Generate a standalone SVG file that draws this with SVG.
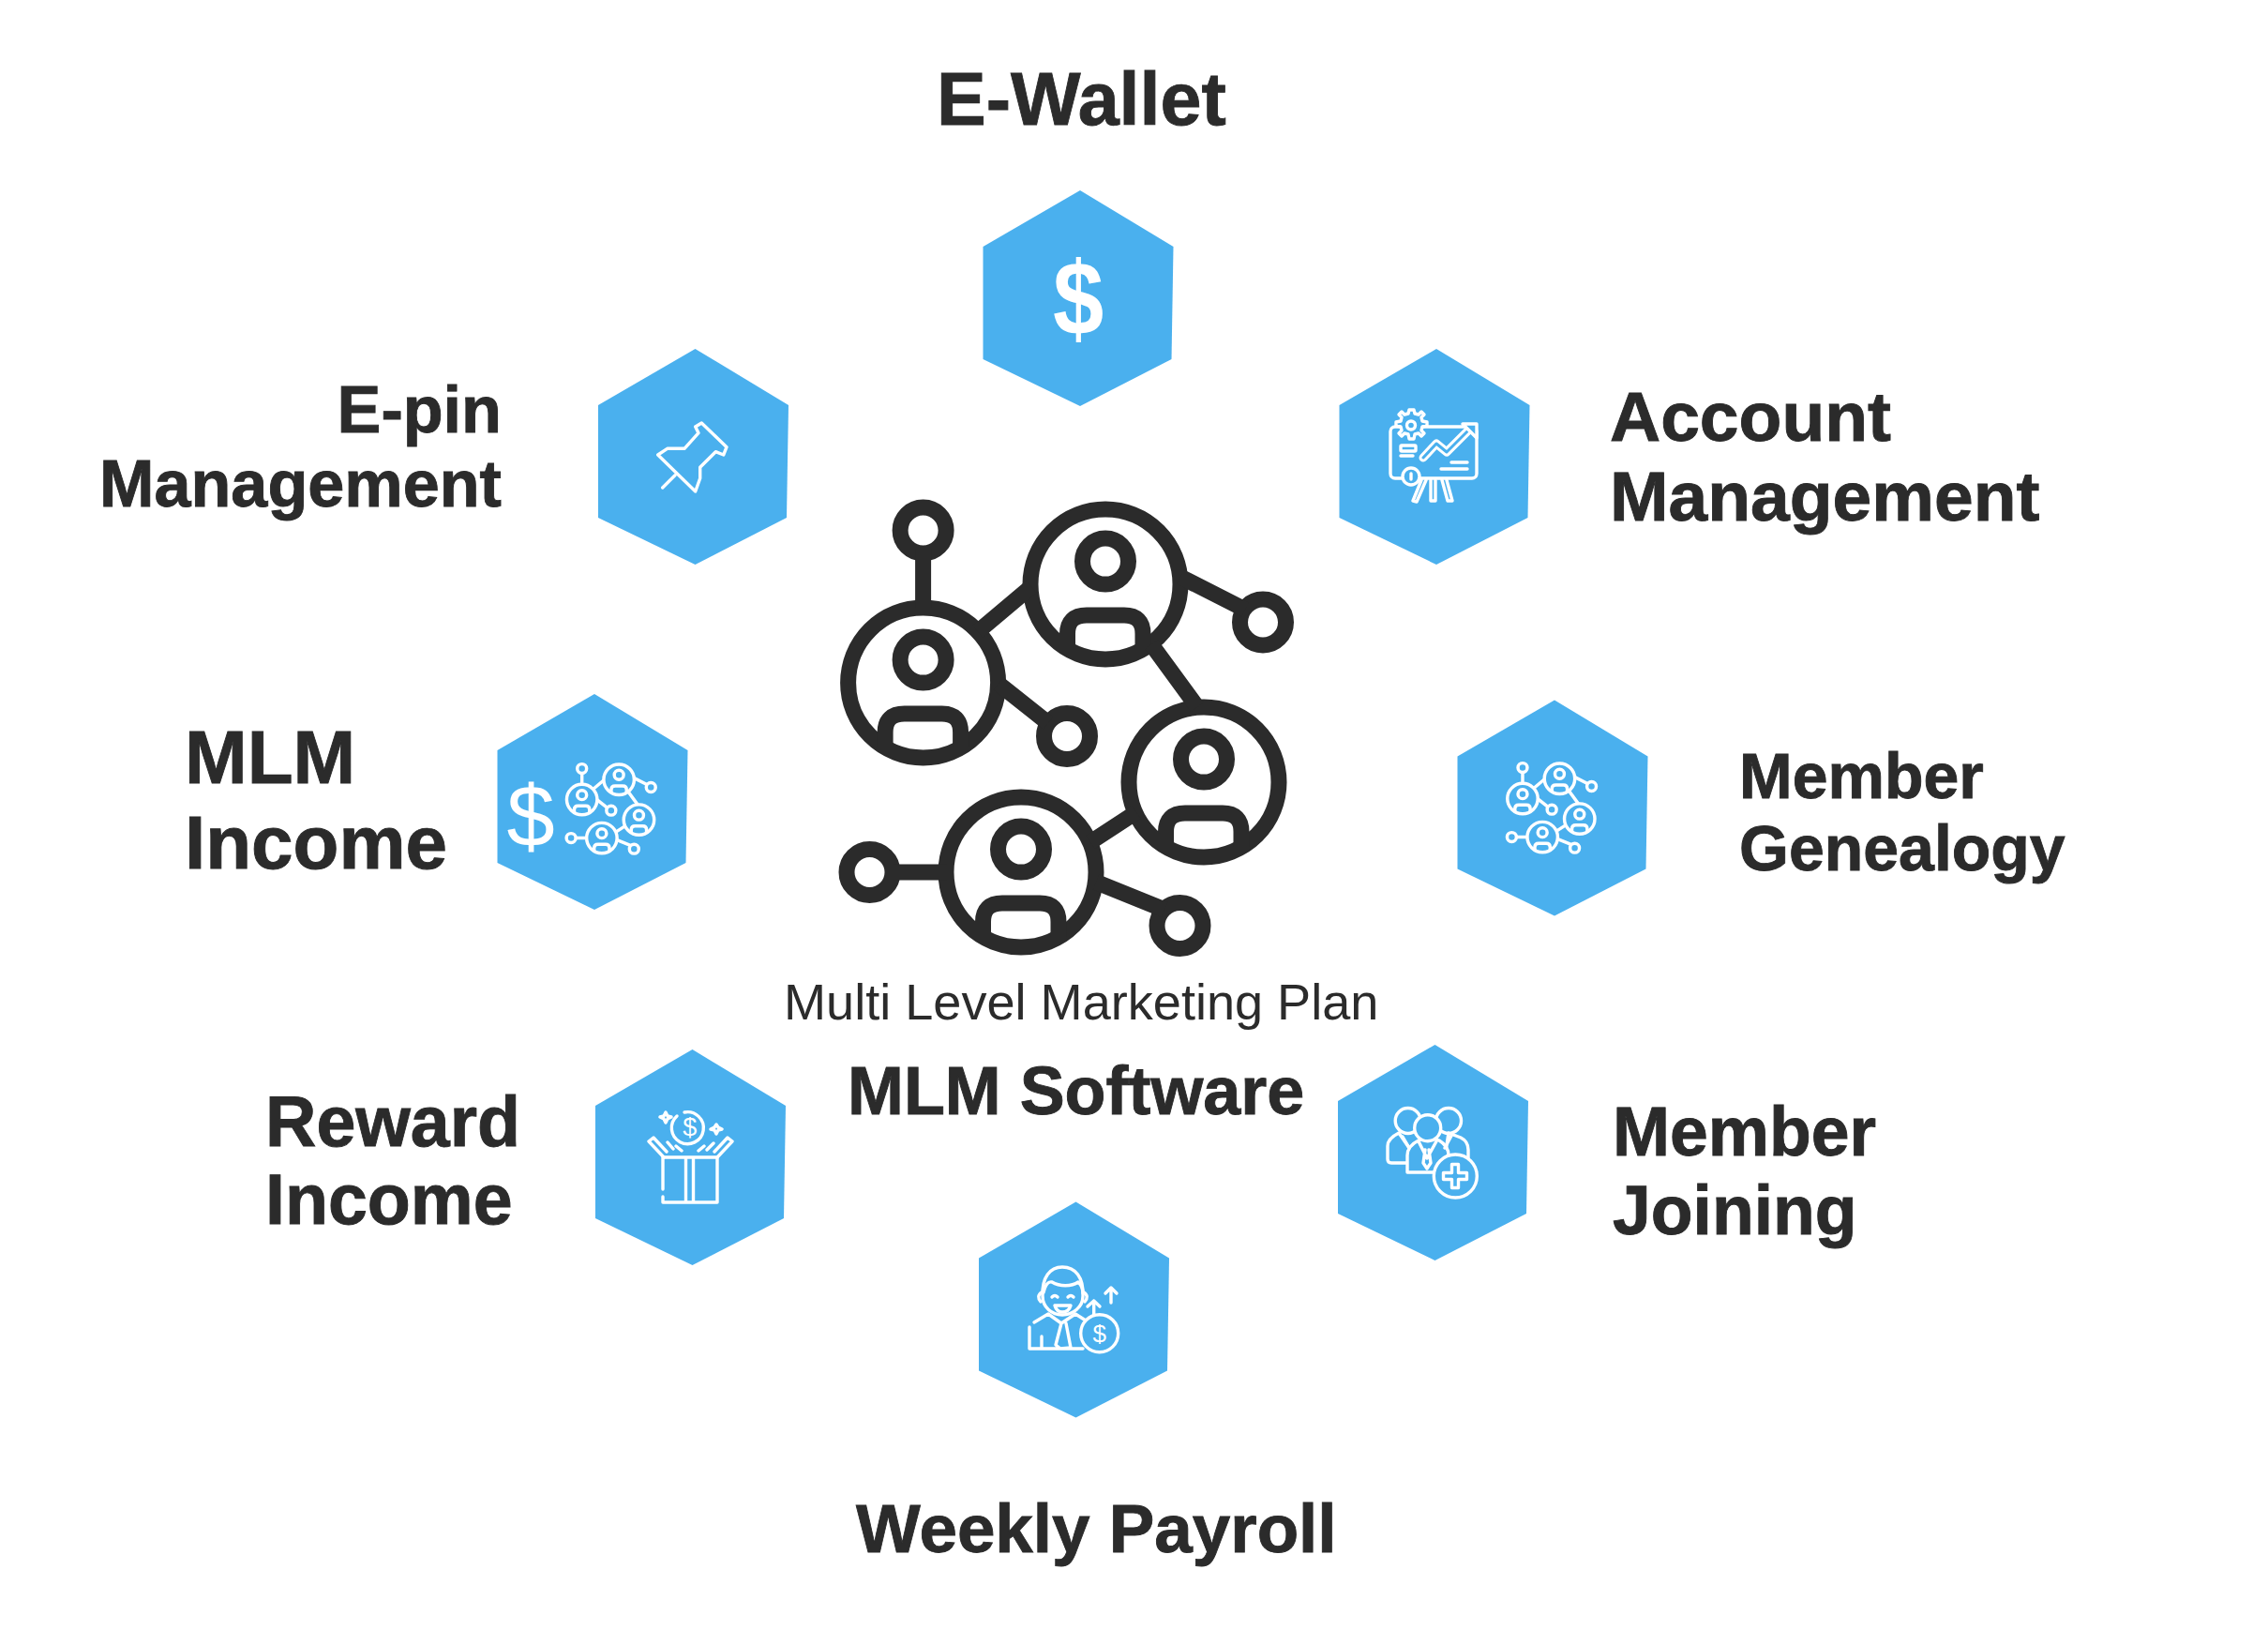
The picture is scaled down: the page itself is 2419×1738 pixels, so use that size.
<svg xmlns="http://www.w3.org/2000/svg" xmlns:xlink="http://www.w3.org/1999/xlink" width="2419" height="1738" viewBox="0 0 2419 1738">
<style>
.t{font-family:"Liberation Sans",Arial,sans-serif;font-weight:700;fill:#2b2b2b;stroke:#2b2b2b;stroke-width:.9}
.r{font-family:"Liberation Sans",Arial,sans-serif;font-weight:400;fill:#2b2b2b}
.hex{fill:#4ab0ee}
.i{fill:none;stroke:#fff;stroke-width:3.4;stroke-linecap:round;stroke-linejoin:round}
.f{fill:#4ab0ee;stroke:#fff;stroke-width:3.4;stroke-linecap:round;stroke-linejoin:round}
.w{font-family:"Liberation Sans",Arial,sans-serif;fill:#fff;text-anchor:middle}
.net{color:#2b2b2b}
.netw{color:#fff}
</style>
<defs>
<polygon id="hexagon" class="hex" points="2,-115 101.5,-55 99.5,65 2,115 -101.5,65 -101.5,-55"/>
<g id="person" fill="none" stroke="currentColor" stroke-width="17">
<circle r="80"/>
<circle cy="-24.4" r="24.5"/>
<path d="M-40.5 69V53Q-40.5 33-20 33H20Q40 33 40 53V69"/>
</g>
<g id="network" fill="none" stroke="currentColor" stroke-width="17">
<use xlink:href="#person" href="#person" x="984.6" y="728"/>
<use xlink:href="#person" href="#person" x="1179" y="623"/>
<use xlink:href="#person" href="#person" x="1284" y="834"/>
<use xlink:href="#person" href="#person" x="1089" y="930"/>
<circle cx="984.6" cy="565.5" r="24.5"/>
<circle cx="1138" cy="785" r="24.5"/>
<circle cx="1347" cy="663.5" r="24.5"/>
<circle cx="927.5" cy="930" r="24.5"/>
<circle cx="1258.5" cy="987" r="24.5"/>
<path d="M984.6 585V648M1043 673.4L1100 625.5M1065 729L1118 771M1259 615L1328 650M1228 687L1277 754M1212 866L1163 898M952 930H1010M1169 940.5L1242 970"/>
</g>
</defs>

<g id="center-icon" class="net"><use xlink:href="#network" href="#network"/></g>
<g id="center-caption"><text class="r" x="836" y="1087" font-size="54.1">Multi Level Marketing Plan</text></g>
<g id="center-title"><text class="t" x="904" y="1188" font-size="71.9">MLM Software</text></g>

<g id="node-e-wallet">
<use xlink:href="#hexagon" href="#hexagon" x="1150" y="318"/>
<text class="w" transform="translate(1150 357) scale(.87 1)" font-size="112" font-weight="700">$</text>
<text class="t" x="999" y="133" font-size="79">E-Wallet</text>
</g>

<g id="node-account-management">
<use xlink:href="#hexagon" href="#hexagon" x="1530" y="487"/>
<rect class="i" x="1483" y="455" width="92" height="55" rx="5"/>
<path class="f" d="M1505 437l3 0 1 4 4 1 3-3 3 3-3 3 1 4 5 1v4l-5 1-1 4 3 3-3 3-3-3-4 1-1 5h-5l-1-5-4-1-3 3-3-3 3-3-1-4-5-1v-4l5-1 1-4-3-3 3-3 3 3 4-1 1-4z"/>
<circle class="i" cx="1505" cy="453.5" r="4.5"/>
<path d="M1518 488L1532 473L1543 482L1568 457" fill="none" stroke="#fff" stroke-width="9" stroke-linecap="round" stroke-linejoin="round"/>
<path d="M1518 488L1532 473L1543 482L1568 457" fill="none" stroke="#4ab0ee" stroke-width="3" stroke-linecap="round" stroke-linejoin="round"/>
<path class="f" d="M1560 452H1575V467Z"/>
<rect class="i" x="1494" y="475" width="16" height="6" rx="1"/>
<path class="i" d="M1494 486H1507M1548 493H1565M1537 500H1565"/>
<circle class="f" cx="1505" cy="508" r="9"/>
<path class="i" d="M1505 505V511"/>
<path class="i" d="M1516 512L1507 534L1511 535L1521 512M1526 512V534H1531V512M1538 512L1544 534L1549 534L1543 512"/>
<text class="t" x="1717" y="470" font-size="75">Account</text>
<text class="t" x="1717" y="555" font-size="75">Management</text>
</g>

<g id="node-member-genealogy">
<use xlink:href="#hexagon" href="#hexagon" x="1656" y="861.5"/>
<g class="netw" transform="translate(1606 812) scale(.203) translate(-896 -533)"><use xlink:href="#network" href="#network"/></g>
<text class="t" x="1855" y="851" font-size="68">Member</text>
<text class="t" x="1855" y="928" font-size="68">Genealogy</text>
</g>

<g id="node-member-joining">
<use xlink:href="#hexagon" href="#hexagon" x="1528.5" y="1229"/>
<circle class="i" cx="1501.7" cy="1195" r="13.5"/>
<circle class="i" cx="1545" cy="1195" r="13.5"/>
<path class="f" d="M1500 1240H1484Q1480 1240 1480 1236V1222Q1480 1214 1492 1208L1503 1224"/>
<path class="f" d="M1545 1208L1558 1213Q1566 1217 1566 1226V1240H1540Z"/>
<path class="f" d="M1501 1250V1232Q1501 1222 1513 1216L1523 1212L1535 1216Q1545 1222 1545 1232V1250Z"/>
<circle class="f" cx="1522.7" cy="1202.7" r="14"/>
<path class="i" d="M1513 1217L1522 1235L1532 1217M1520 1226L1518 1240L1522 1246L1526 1240L1524 1226M1496 1212L1503 1224M1548 1211L1541 1224"/>
<circle class="f" cx="1552.3" cy="1254" r="23"/>
<path class="i" d="M1548.5 1241.5h7v9h9v7h-9v9h-7v-9h-9v-7h9z"/>
<text class="t" x="1720" y="1232" font-size="73.3">Member</text>
<text class="t" x="1720" y="1316" font-size="73.3">Joining</text>
</g>

<g id="node-weekly-payroll">
<use xlink:href="#hexagon" href="#hexagon" x="1145.5" y="1396.5"/>
<path class="i" d="M1112 1382C1111 1362 1120 1351 1133 1351C1147 1351 1156 1362 1155 1382C1155 1394 1144 1402 1133 1402C1122 1402 1112 1394 1112 1382Z"/>
<path class="i" d="M1113 1378C1115 1370 1118 1366 1122 1367C1130 1372 1143 1372 1150 1367C1153 1370 1155 1374 1155 1379M1111 1378Q1105 1382 1110 1388M1156 1378Q1162 1382 1157 1388M1122 1383Q1125 1380 1128 1383M1139 1383Q1142 1380 1145 1383"/>
<path class="i" d="M1125 1392H1142Q1140 1399 1133 1399Q1127 1399 1125 1392Z"/>
<path class="i" d="M1103 1410L1118 1401L1132 1411L1147 1401L1158 1408M1098 1415V1438H1155M1111 1425V1437M1132 1411L1126 1434L1131 1438L1142 1437L1137 1411"/>
<circle class="f" cx="1172.7" cy="1421.7" r="20"/>
<text class="w" x="1172.7" y="1431" font-size="26" font-weight="400">$</text>
<path class="i" d="M1166.7 1402V1387M1160 1393L1166.7 1387L1173 1393M1185 1389V1373M1179 1379L1185 1373L1191 1379"/>
<text class="t" x="913" y="1655" font-size="72.8">Weekly Payroll</text>
</g>

<g id="node-reward-income">
<use xlink:href="#hexagon" href="#hexagon" x="736.5" y="1234"/>
<path class="i" d="M722 1190A17 17 0 1 0 730 1186"/>
<text class="w" x="735.7" y="1211" font-size="27" font-weight="400">$</text>
<path class="i" d="M707 1234H765V1282H707V1276M707 1268V1234M731.5 1234V1282M739.5 1234V1282"/>
<path class="i" d="M708 1234L692 1217L697 1213L711 1228M765 1234L781 1217L776 1213L762 1228M712 1218L718 1225M721 1222L727 1227M745 1227L751 1222M754 1226L761 1219"/>
<path class="i" d="M710 1186L712 1190L716 1191L712 1193L710 1197L708 1193L704 1191L708 1190ZM764 1199L766 1202L770 1204L766 1205L764 1209L762 1205L758 1204L762 1202Z"/>
<text class="t" x="283" y="1222" font-size="75.3">Reward</text>
<text class="t" x="283" y="1305" font-size="75.3">Income</text>
</g>

<g id="node-mlm-income">
<use xlink:href="#hexagon" href="#hexagon" x="632" y="855"/>
<text class="w" x="566" y="902" font-size="92" font-weight="400">$</text>
<g class="netw" transform="translate(602.7 813) scale(.203) translate(-896 -533)"><use xlink:href="#network" href="#network"/></g>
<text class="t" x="197" y="835" font-size="80">MLM</text>
<text class="t" x="197" y="926" font-size="80">Income</text>
</g>

<g id="node-e-pin-management">
<use xlink:href="#hexagon" href="#hexagon" x="739.5" y="487"/>
<path class="i" d="M701.7 485L711.7 478.3L730 478.3L745 461.7L741.7 455L748.3 451L775 476.7L771.7 485L763.3 481.7L746.7 498.3L746.7 510L741.7 524Z"/>
<path class="i" d="M720 506.7L706.7 520"/>
<text class="t" x="535" y="461" font-size="70.2" text-anchor="end">E-pin</text>
<text class="t" x="535" y="540" font-size="70.2" text-anchor="end">Management</text>
</g>
</svg>
